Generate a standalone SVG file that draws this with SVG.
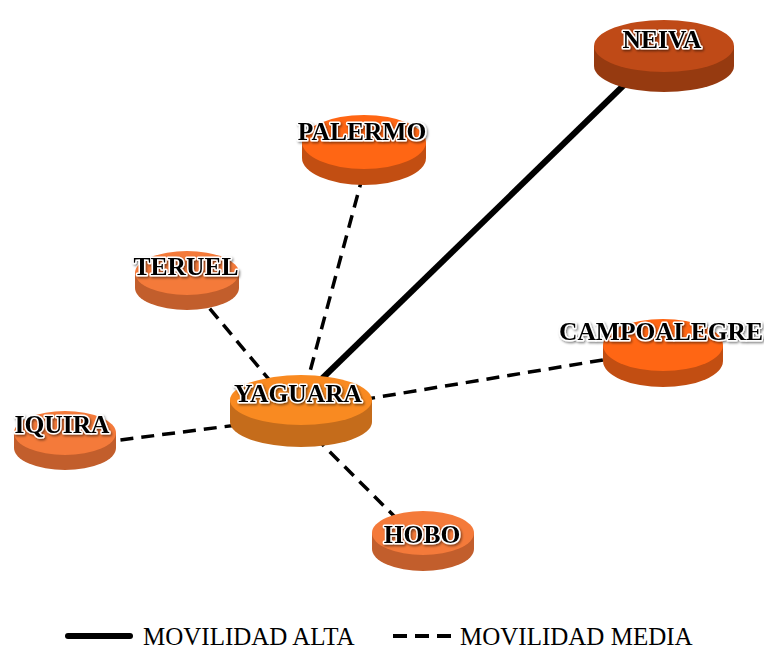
<svg xmlns="http://www.w3.org/2000/svg" width="764" height="650" viewBox="0 0 764 650">
<defs>
<filter id="ts" x="-20%" y="-40%" width="140%" height="180%">
<feDropShadow dx="1.2" dy="1.5" stdDeviation="0.9" flood-color="#000" flood-opacity="0.5"/>
</filter>
</defs>
<style>
.lbl{font-family:"Liberation Serif","Times New Roman",serif;font-weight:bold;font-size:25.5px;fill:#000;stroke:#fff;stroke-width:3px;paint-order:stroke;stroke-linejoin:round;text-anchor:middle;filter:url(#ts)}
.solid{stroke:#000;stroke-width:6;fill:none}
.dash{stroke:#000;stroke-width:3.5;fill:none;stroke-dasharray:13 8}
.leg{font-family:"Liberation Serif","Times New Roman",serif;font-size:25px;fill:#000}
.t1{fill:#BF4A17}.s1{fill:#963A10}
.t2{fill:#FF6614}.s2{fill:#C24E12}
.t3{fill:#F98A21}.s3{fill:#C56C1B}
.t4{fill:#F47A3A}.s4{fill:#C25E2C}
</style>
<rect width="764" height="650" fill="#fff"/>
<g id="connectors">
<line class="solid" x1="300" y1="400" x2="660" y2="50"/>
<line class="dash" x1="305" y1="390" x2="367" y2="160"/>
<line class="dash" x1="272" y1="383" x2="190" y2="285"/>
<line class="dash" x1="300" y1="417" x2="65" y2="447"/>
<line class="dash" x1="300" y1="410" x2="663" y2="350"/>
<line class="dash" x1="300" y1="422" x2="415" y2="537"/>
</g>
<g id="node-neiva">
<path class="s1" d="M594,46 L594,66 A70,26 0 0 0 734,66 L734,46 Z"/>
<ellipse class="t1" cx="664" cy="46" rx="70" ry="26"/>
<text class="lbl" x="662" y="48">NEIVA</text>
</g>
<g id="node-palermo">
<path class="s2" d="M302,142 L302,158 A62,27 0 0 0 426,158 L426,142 Z"/>
<ellipse class="t2" cx="364" cy="142" rx="62" ry="27"/>
<text class="lbl" x="362" y="140">PALERMO</text>
</g>
<g id="node-teruel">
<path class="s4" d="M135,273 L135,288 A52,22 0 0 0 239,288 L239,273 Z"/>
<ellipse class="t4" cx="187" cy="273" rx="52" ry="22"/>
<text class="lbl" x="186" y="275">TERUEL</text>
</g>
<g id="node-campoalegre">
<path class="s2" d="M603,345 L603,361 A60,26 0 0 0 723,361 L723,345 Z"/>
<ellipse class="t2" cx="663" cy="345" rx="60" ry="26"/>
<text class="lbl" x="661" y="340">CAMPOALEGRE</text>
</g>
<g id="node-yaguara">
<path class="s3" d="M230,400 L230,422 A71,25 0 0 0 372,422 L372,400 Z"/>
<ellipse class="t3" cx="301" cy="400" rx="71" ry="25"/>
<text class="lbl" x="298" y="402">YAGUARA</text>
</g>
<g id="node-iquira">
<path class="s4" d="M14,433 L14,448 A51,22 0 0 0 116,448 L116,433 Z"/>
<ellipse class="t4" cx="65" cy="433" rx="51" ry="22"/>
<text class="lbl" x="62" y="433">IQUIRA</text>
</g>
<g id="node-hobo">
<path class="s4" d="M372,533 L372,549 A51,22 0 0 0 474,549 L474,533 Z"/>
<ellipse class="t4" cx="423" cy="533" rx="51" ry="22"/>
<text class="lbl" x="422" y="543">HOBO</text>
</g>
<g id="legend">
<line x1="68" y1="636" x2="130" y2="636" stroke="#000" stroke-width="6" stroke-linecap="round"/>
<text class="leg" x="143" y="645">MOVILIDAD ALTA</text>
<line x1="393" y1="636" x2="451" y2="636" stroke="#000" stroke-width="4" stroke-dasharray="14 8"/>
<text class="leg" x="460" y="645">MOVILIDAD MEDIA</text>
</g>
</svg>
